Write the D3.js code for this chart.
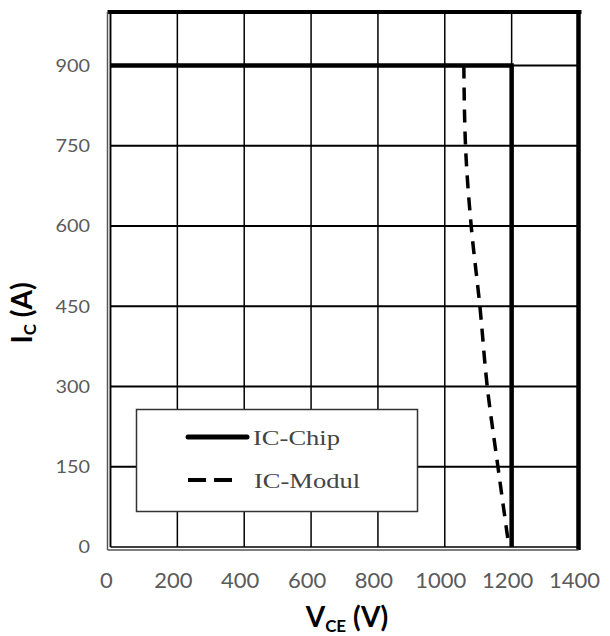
<!DOCTYPE html>
<html>
<head>
<meta charset="utf-8">
<script src="https://cdn.jsdelivr.net/npm/d3@7"></script>
<style>
  body { margin: 0; background: #fff; }
</style>
</head>
<body>
<div id="chart"></div>
<script>
// values
var xTicks = [0, 200, 400, 600, 800, 1000, 1200, 1400];
var yTicks = [0, 150, 300, 450, 600, 750, 900];

// IC-Chip: safe operating area boundary
var chipV = [0, 1200, 1200];
var chipI = [900, 900, 0];

// IC-Modul: dashed limit
var modulV = [1057, 1062, 1079, 1105, 1127, 1159, 1192];
var modulI = [900, 750, 600, 450, 300, 150, 0];

var seriesNames = ["IC-Chip", "IC-Modul"];

var svg = d3.select("#chart").append("svg")
  .attr("width", 610)
  .attr("height", 636);

svg.append("rect").attr("width", 610).attr("height", 636).attr("fill", "#fff");

var x = d3.scaleLinear().domain([0, 1400]).range([110.5, 578.5]);
var y = d3.scaleLinear().domain([0, 1000]).range([547, 12]);

// gridlines
svg.append("g")
  .selectAll("line")
  .data(xTicks)
  .enter()
  .append("line")
  .attr("x1", function(d) { return x(d); })
  .attr("x2", function(d) { return x(d); })
  .attr("y1", y(1000))
  .attr("y2", y(0))
  .attr("stroke", "#000")
  .attr("stroke-width", 1.5);

svg.append("g")
  .selectAll("line")
  .data(yTicks.slice(1))
  .enter()
  .append("line")
  .attr("x1", x(0))
  .attr("x2", x(1400))
  .attr("y1", function(d) { return y(d); })
  .attr("y2", function(d) { return y(d); })
  .attr("stroke", "#000")
  .attr("stroke-width", 2);

// frame: thick top and right, double left and bottom
svg.append("line")
  .attr("x1", x(0) - 3).attr("x2", x(1400) + 3)
  .attr("y1", y(1000)).attr("y2", y(1000))
  .attr("stroke", "#000").attr("stroke-width", 4);
svg.append("line")
  .attr("x1", x(1400)).attr("x2", x(1400))
  .attr("y1", y(1000)).attr("y2", y(0) + 3)
  .attr("stroke", "#000").attr("stroke-width", 4.5);
svg.append("line")
  .attr("x1", x(0)).attr("x2", x(0))
  .attr("y1", y(1000)).attr("y2", y(0))
  .attr("stroke", "#000").attr("stroke-width", 1.5);
svg.append("line")
  .attr("x1", x(0) - 3).attr("x2", x(0) - 3)
  .attr("y1", y(1000)).attr("y2", y(0) + 3)
  .attr("stroke", "#555").attr("stroke-width", 1.5);
svg.append("line")
  .attr("x1", x(0)).attr("x2", x(1400))
  .attr("y1", y(0)).attr("y2", y(0))
  .attr("stroke", "#000").attr("stroke-width", 1.5);
svg.append("line")
  .attr("x1", x(0) - 3).attr("x2", x(1400))
  .attr("y1", y(0) + 3).attr("y2", y(0) + 3)
  .attr("stroke", "#555").attr("stroke-width", 1.5);

// series
var line = d3.line()
  .x(function(d) { return x(d[0]); })
  .y(function(d) { return y(d[1]); });

var modulData = d3.zip(modulV, modulI);
var chipData = d3.zip(chipV, chipI);

svg.append("path")
  .datum(modulData)
  .attr("d", line.curve(d3.curveMonotoneY))
  .attr("fill", "none")
  .attr("stroke", "#000")
  .attr("stroke-width", 3.5)
  .attr("stroke-dasharray", "13,9");

svg.append("path")
  .datum(chipData)
  .attr("d", line.curve(d3.curveLinear))
  .attr("fill", "none")
  .attr("stroke", "#000")
  .attr("stroke-width", 4.5)
  .attr("stroke-linejoin", "miter");

// tick labels (the original glyphs are a bit stretched sideways)
svg.append("g")
  .selectAll("text")
  .data(yTicks)
  .enter()
  .append("text")
  .attr("x", 90)
  .attr("y", function(d) { return y(d); })
  .attr("dy", "0.35em")
  .attr("text-anchor", "end")
  .attr("font-family", "Lato, sans-serif")
  .attr("font-size", 18)
  .attr("fill", "#5a5a5a")
  .attr("textLength", function(d) { return String(d).length * 11.5; })
  .attr("lengthAdjust", "spacingAndGlyphs")
  .text(function(d) { return d; });

svg.append("g")
  .selectAll("text")
  .data(xTicks)
  .enter()
  .append("text")
  .attr("x", function(d) { return x(d) - 4; })
  .attr("y", 588)
  .attr("text-anchor", "middle")
  .attr("font-family", "Lato, sans-serif")
  .attr("font-size", 22)
  .attr("fill", "#5a5a5a")
  .text(function(d) { return d; });

// axis titles
var xt = svg.append("text")
  .attr("x", 347)
  .attr("y", 627)
  .attr("text-anchor", "middle")
  .attr("font-family", "Lato, sans-serif")
  .attr("font-weight", "bold")
  .attr("font-size", 28)
  .attr("fill", "#000");
xt.append("tspan").text("V");
xt.append("tspan").attr("font-size", 17).attr("dy", 5).text("CE");
xt.append("tspan").attr("dy", -5).text(" (V)");

var yt = svg.append("text")
  .attr("transform", "translate(32,313) rotate(-90)")
  .attr("text-anchor", "middle")
  .attr("font-family", "Lato, sans-serif")
  .attr("font-weight", "bold")
  .attr("font-size", 28)
  .attr("fill", "#000");
yt.append("tspan").text("I");
yt.append("tspan").attr("font-size", 17).attr("dy", 4).text("C");
yt.append("tspan").attr("dy", -4).text(" (A)");

// legend
var legend = svg.append("g");
legend.append("rect")
  .attr("x", 136.5).attr("y", 409.5)
  .attr("width", 281).attr("height", 102)
  .attr("fill", "#fff")
  .attr("stroke", "#333")
  .attr("stroke-width", 1.5);

var legendDash = [null, "18,8"];
var legendW = [5, 4];
var legendTextW = [87, 106];
seriesNames.forEach(function(name, i) {
  var ly = 437 + i * 43;
  legend.append("line")
    .attr("x1", 188).attr("x2", i == 0 ? 247 : 233)
    .attr("y1", ly).attr("y2", ly)
    .attr("stroke", "#000")
    .attr("stroke-width", legendW[i])
    .attr("stroke-linecap", i == 0 ? "round" : "butt")
    .attr("stroke-dasharray", legendDash[i]);
  legend.append("text")
    .attr("x", i == 0 ? 253 : 254)
    .attr("y", ly + 8)
    .attr("font-family", "Liberation Serif, serif")
    .attr("font-size", 21)
    .attr("fill", "#444")
    .attr("textLength", legendTextW[i])
    .attr("lengthAdjust", "spacingAndGlyphs")
    .text(name);
});
</script>
</body>
</html>
